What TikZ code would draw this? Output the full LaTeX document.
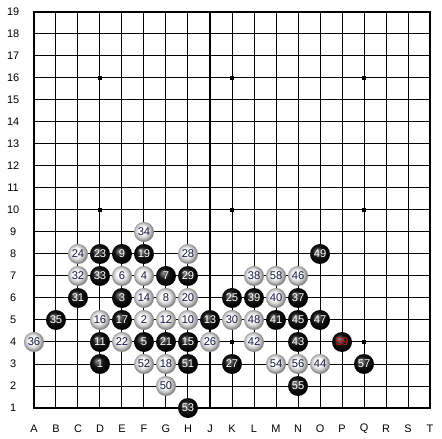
\documentclass[tikz,border=0pt]{standalone}
\usepackage{fontspec}
\setmainfont{Liberation Sans}
\usepackage{tikz}
\definecolor{cNum}{RGB}{25,25,70}
\definecolor{cMove}{RGB}{235,20,20}
\pgfdeclareradialshading{wstoneshade}{\pgfpoint{-5bp}{5bp}}{color(0bp)=(white); color(9bp)=(white); color(17bp)=(black!18); color(24bp)=(black!45); color(30bp)=(black!60); color(50bp)=(black!60)}
\pgfdeclareradialshading{bstoneshade}{\pgfpoint{-8bp}{8bp}}{color(0bp)=(black!45); color(5bp)=(black!62); color(13bp)=(black!92); color(27bp)=(black); color(33bp)=(black!75); color(50bp)=(black!75)}

\begin{document}
\begin{tikzpicture}[x=16.5pt,y=16.5pt,
  bstone/.style={circle,inner sep=0pt,minimum size=15pt,shade,shading=bstoneshade,text=white,font=\fontsize{8.4}{9}\selectfont},
  wstone/.style={circle,inner sep=0pt,minimum size=15pt,shade,shading=wstoneshade,text=cNum,font=\fontsize{8.4}{9}\selectfont},
  lbl/.style={inner sep=0pt,font=\fontsize{8.2}{9}\selectfont}]
\useasboundingbox (-0.545,-0.364) rectangle (19.545,19.545);
\fill[white] (-0.545,-0.364) rectangle (19.545,19.545);
% grid
\foreach \i in {2,...,18} {
  \draw[line width=0.75pt] (\i,1) -- (\i,19);
  \draw[line width=0.75pt] (1,\i) -- (19,\i);
}
\draw[line width=1.5pt] (1,1) rectangle (19,19);
% hoshi
\foreach \x in {4,10,16}
  \foreach \y in {4,10,16}
    \fill (\x,\y) +(-1.5pt,-1.5pt) rectangle +(1.5pt,1.5pt);
% coordinates
\foreach \r in {1,...,19}
  \node[lbl] (row\r) at (0.05,\r) {\r};
\foreach \l [count=\c] in {A,B,C,D,E,F,G,H,J,K,L,M,N,O,P,Q,R,S,T}
  \node[lbl] (col\l) at (\c,0.05) {\l};
% moves
\foreach \c/\r/\n in {4/3/1,6/5/2,5/6/3,6/7/4,6/4/5,5/7/6,7/7/7,7/6/8,5/8/9,8/5/10,
  4/4/11,7/5/12,9/5/13,6/6/14,8/4/15,4/5/16,5/5/17,7/3/18,6/8/19,8/6/20,
  7/4/21,5/4/22,4/8/23,3/8/24,10/6/25,9/4/26,10/3/27,8/8/28,8/7/29,10/5/30,
  3/6/31,3/7/32,4/7/33,6/9/34,2/5/35,1/4/36,13/6/37,11/7/38,11/6/39,12/6/40,
  12/5/41,11/4/42,13/4/43,14/3/44,13/5/45,13/7/46,14/5/47,11/5/48,14/8/49,7/2/50,
  8/3/51,6/3/52,8/1/53,12/3/54,13/2/55,13/3/56,16/3/57,12/7/58} {
  \ifodd\n
    \node[bstone] (s\n) at (\c,\r) {\n};
  \else
    \node[wstone] (s\n) at (\c,\r) {\n};
  \fi
}
\node[bstone,text=cMove] (s59) at (15,4) {59};
\end{tikzpicture}
\end{document}
